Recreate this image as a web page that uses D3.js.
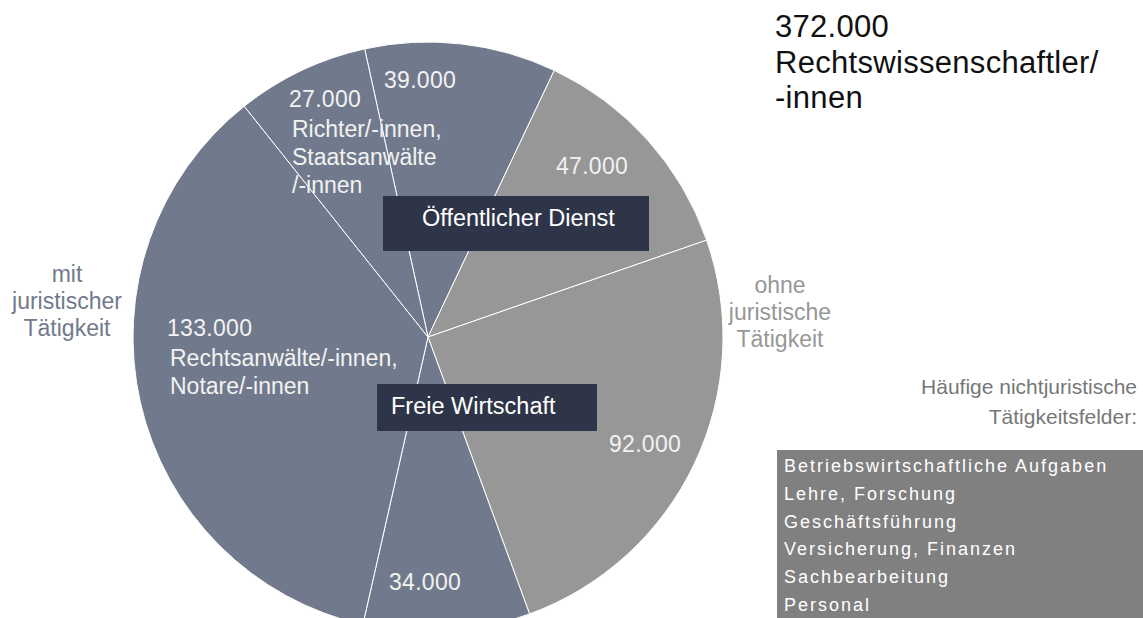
<!DOCTYPE html>
<html>
<head>
<meta charset="utf-8">
<script src="https://cdn.jsdelivr.net/npm/d3@7"></script>
<style>
  body { margin: 0; background: #fff; }
  svg { display: block; font-family: "Liberation Sans", Arial, sans-serif; }
</style>
</head>
<body>
<div id="chart"></div>
<script>
// slices, clockwise from the top
const slices = ['Öffentlicher Dienst (Richter)', 'Öffentlicher Dienst (ohne)', 'Freie Wirtschaft (ohne)', 'Freie Wirtschaft (sonstige)', 'Rechtsanwälte/Notare', 'Richter/Staatsanwälte']
const values = [39000, 47000, 92000, 34000, 133000, 27000]
const valueLabels = ['39.000', '47.000', '92.000', '34.000', '133.000', '27.000']
const juristic = [true, false, false, true, true, true]
const sliceTexts = [[], [], [], [], ['Rechtsanwälte/-innen,', 'Notare/-innen'], ['Richter/-innen,', 'Staatsanwälte', '/-innen']]
const fields = ['Betriebswirtschaftliche Aufgaben', 'Lehre, Forschung', 'Geschäftsführung', 'Versicherung, Finanzen', 'Sachbearbeitung', 'Personal']

const width = 1143
const height = 618
const cx = 428
const cy = 337
const radius = 295

const blue = '#717a8c'
const grey = '#979797'

const svg = d3.select('#chart')
  .append('svg')
  .attr('width', width)
  .attr('height', height)

const total = d3.sum(values)
const start = -12.4 * Math.PI / 180

const pie = d3.pie()
  .sort(null)
  .value(d => d)
  .startAngle(start)
  .endAngle(start + 2 * Math.PI)

const arcs = pie(values)
const arc = d3.arc().innerRadius(0).outerRadius(radius)

const g = svg.append('g')
  .attr('transform', `translate(${cx}, ${cy})`)

g.selectAll('path')
  .data(arcs)
  .enter()
  .append('path')
  .attr('d', arc)
  .attr('fill', (d, i) => juristic[i] ? blue : grey)
  .attr('stroke', '#fff')
  .attr('stroke-width', 1)

// value labels (left x, baseline y relative to centre)
const labelPos = [[-44, -249], [128, -163], [181, 115], [-39, 253], [-261, -1], [-139, -230]]
g.selectAll('text.val')
  .data(arcs)
  .enter()
  .append('text')
  .attr('class', 'val')
  .attr('x', (d, i) => labelPos[i][0])
  .attr('y', (d, i) => labelPos[i][1])
  .attr('fill', '#f2f2f2')
  .style('font-size', '23px')
  .style('letter-spacing', '0.3px')
  .text((d, i) => valueLabels[i])

// descriptive text inside slices
sliceTexts.forEach((lines, i) => {
  lines.forEach((t, j) => {
    g.append('text')
      .attr('x', labelPos[i][0] + 3)
      .attr('y', labelPos[i][1] + 30 + j * 28)
      .attr('fill', '#f2f2f2')
      .style('font-size', '23px')
      .text(t)
  })
})

// dark label boxes
const boxes = [
  { text: 'Öffentlicher Dienst', x: 383, y: 196, w: 266, h: 55, tx: 422, ty: 226 },
  { text: 'Freie Wirtschaft', x: 377, y: 384, w: 220, h: 47, tx: 391, ty: 414 }
]
boxes.forEach(b => {
  svg.append('rect')
    .attr('x', b.x).attr('y', b.y)
    .attr('width', b.w).attr('height', b.h)
    .attr('fill', '#2f3549')
  svg.append('text')
    .attr('x', b.tx)
    .attr('y', b.ty)
    .attr('fill', '#fff')
    .style('font-size', '23.5px')
    .text(b.text)
})

// outside labels
const sideLabels = [
  { lines: ['mit', 'juristischer', 'Tätigkeit'], x: 67, y: 282, color: blue },
  { lines: ['ohne', 'juristische', 'Tätigkeit'], x: 780, y: 293, color: grey }
]
sideLabels.forEach(s => {
  s.lines.forEach((t, j) => {
    svg.append('text')
      .attr('x', s.x)
      .attr('y', s.y + j * 27)
      .attr('text-anchor', 'middle')
      .attr('fill', s.color)
      .style('font-size', '23px')
      .text(t)
  })
})

// title top right
const title = [d3.format(',')(total).replace(/,/g, '.'), 'Rechtswissenschaftler/', '-innen']
title.forEach((t, j) => {
  svg.append('text')
    .attr('x', 775)
    .attr('y', 37 + j * 35.5)
    .attr('fill', '#111')
    .style('font-size', '31px')
    .style('letter-spacing', '0.3px')
    .text(t)
})

// non-juristic fields
const fieldHead = ['Häufige nichtjuristische', 'Tätigkeitsfelder:']
fieldHead.forEach((t, j) => {
  svg.append('text')
    .attr('x', 1137)
    .attr('y', 394 + j * 30)
    .attr('text-anchor', 'end')
    .attr('fill', '#777')
    .style('font-size', '21px')
    .text(t)
})

svg.append('rect')
  .attr('x', 777).attr('y', 450)
  .attr('width', width - 777).attr('height', height - 450)
  .attr('fill', '#808080')

svg.selectAll('text.field')
  .data(fields)
  .enter()
  .append('text')
  .attr('class', 'field')
  .attr('x', 784)
  .attr('y', (d, i) => 472 + i * 27.8)
  .attr('fill', '#fff')
  .style('font-size', '18px')
  .style('letter-spacing', '2px')
  .text(d => d)
</script>
</body>
</html>
